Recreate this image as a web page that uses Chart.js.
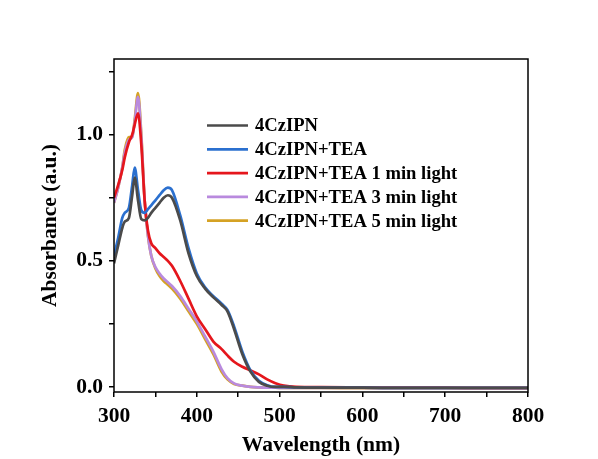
<!DOCTYPE html>
<html>
<head>
<meta charset="utf-8">
<script src="https://cdn.jsdelivr.net/npm/chart.js@4.4.1/dist/chart.umd.min.js"></script>
<style>
  html, body { margin: 0; padding: 0; background: #fff; }
  #wrap { width: 598px; height: 459px; position: relative; }
</style>
</head>
<body>
<div id="wrap"><canvas id="chart"></canvas></div>
<script>
// absorption spectra, wavelength in nm
const wavelength = [300, 305, 310, 313, 318, 322, 325, 329, 333, 337, 341, 345, 350, 355, 360, 365, 370, 380, 390, 400, 410, 420, 430, 437, 445, 455, 465, 475, 485, 495, 505, 520, 550, 600, 650, 700, 750, 800];

const czipn      = [0.49, 0.56, 0.63, 0.655, 0.67, 0.76, 0.83, 0.74, 0.665, 0.66, 0.67, 0.69, 0.71, 0.73, 0.75, 0.76, 0.75, 0.66, 0.53, 0.44, 0.39, 0.355, 0.325, 0.30, 0.23, 0.13, 0.06, 0.02, 0.005, 0.0, 0.0, -0.002, -0.003, -0.003, -0.004, -0.004, -0.004, -0.004];
const czipnTea   = [0.52, 0.59, 0.67, 0.69, 0.71, 0.80, 0.87, 0.78, 0.70, 0.69, 0.705, 0.72, 0.74, 0.76, 0.78, 0.79, 0.78, 0.68, 0.55, 0.45, 0.395, 0.36, 0.33, 0.305, 0.24, 0.14, 0.065, 0.025, 0.007, 0.0, 0.0, -0.002, -0.003, -0.003, -0.004, -0.004, -0.004, -0.004];
const light1min  = [0.75, 0.80, 0.86, 0.91, 0.97, 1.0, 1.04, 1.085, 0.96, 0.74, 0.62, 0.57, 0.55, 0.53, 0.515, 0.50, 0.48, 0.42, 0.35, 0.28, 0.23, 0.18, 0.15, 0.125, 0.10, 0.08, 0.065, 0.05, 0.03, 0.015, 0.005, 0.0, -0.001, -0.002, -0.003, -0.003, -0.004, -0.004];
const light3min  = [0.73, 0.79, 0.87, 0.93, 0.98, 0.99, 1.05, 1.15, 0.99, 0.74, 0.60, 0.52, 0.475, 0.45, 0.43, 0.415, 0.40, 0.36, 0.31, 0.26, 0.20, 0.14, 0.07, 0.035, 0.014, 0.005, 0.0, -0.002, -0.003, -0.003, -0.004, -0.004, -0.004, -0.004, -0.005, -0.005, -0.005, -0.005];
const light5min  = [0.73, 0.79, 0.87, 0.94, 0.99, 0.99, 1.06, 1.165, 1.0, 0.74, 0.60, 0.52, 0.47, 0.44, 0.42, 0.405, 0.39, 0.35, 0.30, 0.25, 0.19, 0.13, 0.06, 0.03, 0.012, 0.005, 0.0, -0.002, -0.003, -0.003, -0.004, -0.004, -0.004, -0.005, -0.005, -0.005, -0.005, -0.005];

const seriesNames  = ['4CzIPN', '4CzIPN+TEA', '4CzIPN+TEA 1 min light', '4CzIPN+TEA 3 min light', '4CzIPN+TEA 5 min light'];
const seriesValues = [czipn, czipnTea, light1min, light3min, light5min];
const seriesColors = ['#4b4b4b', '#2b70cf', '#e5161c', '#b98ade', '#d5a224'];

const serif = '"Liberation Serif", "Times New Roman", serif';

function pts(ys) {
  return wavelength.map((x, i) => ({ x: x, y: ys[i] }));
}

// box round the plot area (Chart.js only draws left/bottom borders)
const frame = {
  id: 'frame',
  beforeDraw(chart) {
    const c = chart.ctx;
    c.save();
    c.fillStyle = '#fff';
    c.fillRect(0, 0, chart.width, chart.height);
    c.restore();
  },
  afterDraw(chart) {
    const a = chart.chartArea, c = chart.ctx;
    c.save();
    c.strokeStyle = '#000';
    c.lineWidth = 1.5;
    c.strokeRect(a.left, a.top, a.right - a.left, a.bottom - a.top);
    c.restore();
  }
};

// legend inside the plot, line sample + bold label
const insideLegend = {
  id: 'insideLegend',
  afterDatasetsDraw(chart) {
    const c = chart.ctx;
    const x0 = 207, x1 = 248, tx = 255, y0 = 125.5, dy = 23.8;
    c.save();
    c.font = 'bold 18.6px ' + serif;
    c.textBaseline = 'middle';
    chart.data.datasets.forEach((ds, i) => {
      const y = y0 + i * dy;
      c.strokeStyle = ds.borderColor;
      c.lineWidth = 2.7;
      c.beginPath();
      c.moveTo(x0, y);
      c.lineTo(x1, y);
      c.stroke();
      c.fillStyle = '#000';
      c.fillText(ds.label, tx, y + 1);
    });
    c.restore();
  }
};

new Chart(document.getElementById('chart'), {
  type: 'line',
  data: {
    datasets: seriesNames.map((name, i) => ({
      label: name,
      data: pts(seriesValues[i]),
      borderColor: seriesColors[i],
      backgroundColor: seriesColors[i],
      borderWidth: 2.7,
      pointRadius: 0,
      cubicInterpolationMode: 'monotone',
      fill: false
    }))
  },
  options: {
    responsive: true,
    maintainAspectRatio: false,
    animation: false,
    events: [],
    layout: { padding: { top: 59, right: 70, left: 0, bottom: 0 } },
    plugins: { legend: { display: false }, tooltip: { enabled: false } },
    scales: {
      x: {
        type: 'linear',
        min: 300,
        max: 800,
        afterFit(s) { s.height = 67; },
        border: { display: false },
        grid: { drawOnChartArea: false, drawTicks: true, tickLength: 5, color: '#000', lineWidth: 1.5 },
        ticks: {
          stepSize: 50,
          color: '#000',
          padding: 7,
          maxRotation: 0,
          autoSkip: false,
          font: { family: serif, size: 21.5, weight: 'bold' },
          callback: v => (v % 100 === 0 ? String(v) : '')
        },
        title: {
          display: true,
          text: 'Wavelength (nm)',
          color: '#000',
          padding: { top: 0, bottom: 1 },
          font: { family: serif, size: 21.5, weight: 'bold' }
        }
      },
      y: {
        min: -0.02,
        max: 1.30,
        afterFit(s) { s.width = 114; },
        border: { display: false },
        grid: { drawOnChartArea: false, drawTicks: true, tickLength: 5, color: '#000', lineWidth: 1.5 },
        ticks: {
          stepSize: 0.25,
          includeBounds: false,
          color: '#000',
          padding: 6,
          autoSkip: false,
          font: { family: serif, size: 21.5, weight: 'bold' },
          callback: v => (Math.abs(v * 2 - Math.round(v * 2)) < 1e-6 ? v.toFixed(1) : '')
        },
        title: {
          display: true,
          text: 'Absorbance (a.u.)',
          color: '#000',
          padding: { top: 38, bottom: 0 },
          font: { family: serif, size: 21.5, weight: 'bold' }
        }
      }
    }
  },
  plugins: [frame, insideLegend]
});
</script>
</body>
</html>
